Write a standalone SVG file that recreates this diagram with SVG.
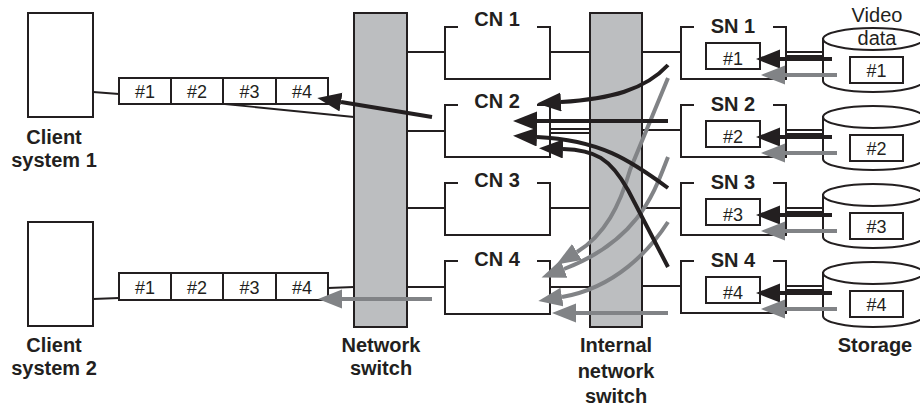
<svg xmlns="http://www.w3.org/2000/svg" width="920" height="407" viewBox="0 0 920 407">
<defs>
<style>
text{font-family:"Liberation Sans",Arial,Helvetica,sans-serif;fill:#231f20}
.lbl{font-size:20px;font-weight:bold;text-anchor:middle}
.pk{font-size:18px;text-anchor:middle}
.vd{font-size:20px;text-anchor:middle}
.box{fill:#fff;stroke:#231f20;stroke-width:2}
.open{fill:none;stroke:#231f20;stroke-width:2}
.sw{fill:#bcbec0;stroke:#231f20;stroke-width:2}
.ln{fill:none;stroke:#231f20;stroke-width:1.9}
.blk{fill:none;stroke:#231f20;stroke-width:4;marker-end:url(#ab)}
.gry{fill:none;stroke:#818386;stroke-width:4;marker-end:url(#ag)}
</style>
<marker id="ab" markerUnits="userSpaceOnUse" markerWidth="26" markerHeight="20" refX="0" refY="9.5" orient="auto"><path d="M0,0 L24,9.5 L0,19 z" fill="#231f20"/></marker>
<marker id="ag" markerUnits="userSpaceOnUse" markerWidth="26" markerHeight="20" refX="0" refY="9.5" orient="auto"><path d="M0,0 L24,9.5 L0,19 z" fill="#818386"/></marker>
</defs>
<rect width="920" height="407" fill="#fff"/>

<g id="connectors">
<line class="ln" x1="93" y1="92" x2="119" y2="94"/>
<line class="ln" x1="225" y1="104" x2="354" y2="117"/>
<line class="ln" x1="93" y1="299" x2="119" y2="298"/>
<line class="ln" x1="328" y1="288" x2="354" y2="287"/>
<line class="ln" x1="407" y1="52" x2="445" y2="52"/>
<line class="ln" x1="407" y1="131" x2="445" y2="131"/>
<line class="ln" x1="407" y1="208" x2="445" y2="208"/>
<line class="ln" x1="407" y1="287" x2="445" y2="287"/>
<line class="ln" x1="550" y1="52" x2="590" y2="52"/>
<line class="ln" x1="550" y1="129" x2="590" y2="129"/>
<line class="ln" x1="550" y1="133" x2="590" y2="133"/>
<line class="ln" x1="550" y1="208" x2="590" y2="208"/>
<line class="ln" x1="550" y1="287" x2="590" y2="287"/>
<line class="ln" x1="642" y1="52" x2="681" y2="52"/>
<line class="ln" x1="642" y1="130" x2="681" y2="130"/>
<line class="ln" x1="642" y1="208" x2="681" y2="208"/>
<line class="ln" x1="642" y1="286" x2="681" y2="286"/>
<line class="ln" x1="786" y1="52" x2="823" y2="52"/>
<line class="ln" x1="786" y1="56" x2="823" y2="56"/>
<line class="ln" x1="786" y1="130" x2="823" y2="130"/>
<line class="ln" x1="786" y1="134" x2="823" y2="134"/>
<line class="ln" x1="786" y1="208" x2="823" y2="208"/>
<line class="ln" x1="786" y1="212" x2="823" y2="212"/>
<line class="ln" x1="786" y1="286" x2="823" y2="286"/>
<line class="ln" x1="786" y1="290" x2="823" y2="290"/>
</g>

<g id="client1">
<rect class="box" x="28" y="13" width="65" height="104"/>
<text class="lbl" x="54" y="144">Client</text>
<text class="lbl" x="54" y="167">system 1</text>
</g>
<g id="client2">
<rect class="box" x="28" y="222" width="65" height="104"/>
<text class="lbl" x="54" y="352">Client</text>
<text class="lbl" x="54" y="375">system 2</text>
</g>

<g id="packets1">
<rect class="box" x="119" y="78" width="52" height="26"/>
<rect class="box" x="171" y="78" width="52" height="26"/>
<rect class="box" x="223" y="78" width="53" height="26"/>
<rect class="box" x="276" y="78" width="52" height="26"/>
<text class="pk" x="145" y="98">#1</text>
<text class="pk" x="197" y="98">#2</text>
<text class="pk" x="249.5" y="98">#3</text>
<text class="pk" x="302" y="98">#4</text>
</g>
<g id="packets2">
<rect class="box" x="119" y="273" width="52" height="27"/>
<rect class="box" x="171" y="273" width="52" height="27"/>
<rect class="box" x="223" y="273" width="53" height="27"/>
<rect class="box" x="276" y="273" width="52" height="27"/>
<text class="pk" x="145" y="294">#1</text>
<text class="pk" x="197" y="294">#2</text>
<text class="pk" x="249.5" y="294">#3</text>
<text class="pk" x="302" y="294">#4</text>
</g>

<g id="network-switch">
<rect class="sw" x="354" y="13" width="53" height="314"/>
<text class="lbl" x="381" y="352">Network</text>
<text class="lbl" x="381" y="375">switch</text>
</g>
<g id="internal-switch">
<rect class="sw" x="590" y="13" width="52" height="314"/>
<text class="lbl" x="616" y="352">Internal</text>
<text class="lbl" x="616" y="378">network</text>
<text class="lbl" x="616" y="403">switch</text>
</g>

<g id="cn1">
<path class="open" d="M458,27 L445,27 L445,79 L550,79 L550,27 L537,27"/>
<text class="lbl" x="497" y="26">CN 1</text>
</g>
<g id="cn2">
<path class="open" d="M458,105 L445,105 L445,157 L550,157 L550,105 L537,105"/>
<text class="lbl" x="497" y="108">CN 2</text>
</g>
<g id="cn3">
<path class="open" d="M458,183 L445,183 L445,235 L550,235 L550,183 L537,183"/>
<text class="lbl" x="497" y="187">CN 3</text>
</g>
<g id="cn4">
<path class="open" d="M458,261 L445,261 L445,314 L550,314 L550,261 L537,261"/>
<text class="lbl" x="497" y="266">CN 4</text>
</g>

<g id="sn1">
<path class="open" d="M694,27 L681,27 L681,79 L786,79 L786,27 L773,27"/>
<text class="lbl" x="733" y="33">SN 1</text>
<rect class="box" x="706" y="43" width="54" height="26"/>
<text class="pk" x="733" y="65">#1</text>
</g>
<g id="sn2">
<path class="open" d="M694,105 L681,105 L681,157 L786,157 L786,105 L773,105"/>
<text class="lbl" x="733" y="111">SN 2</text>
<rect class="box" x="706" y="121" width="54" height="26"/>
<text class="pk" x="733" y="143">#2</text>
</g>
<g id="sn3">
<path class="open" d="M694,183 L681,183 L681,235 L786,235 L786,183 L773,183"/>
<text class="lbl" x="733" y="189">SN 3</text>
<rect class="box" x="706" y="199" width="54" height="26"/>
<text class="pk" x="733" y="221">#3</text>
</g>
<g id="sn4">
<path class="open" d="M694,261 L681,261 L681,313 L786,313 L786,261 L773,261"/>
<text class="lbl" x="733" y="267">SN 4</text>
<rect class="box" x="706" y="277" width="54" height="26"/>
<text class="pk" x="733" y="299">#4</text>
</g>

<g id="storage1">
<path class="box" d="M823,39 L823,81 A50,11 0 0 0 923,81 L923,39 Z"/>
<ellipse class="box" cx="873" cy="39" rx="50" ry="11"/>
<rect class="box" x="850" y="57" width="53" height="26"/>
<text class="pk" x="876.5" y="77">#1</text>
</g>
<g id="storage2">
<path class="box" d="M823,117 L823,159 A50,11 0 0 0 923,159 L923,117 Z"/>
<ellipse class="box" cx="873" cy="117" rx="50" ry="11"/>
<rect class="box" x="850" y="135" width="53" height="26"/>
<text class="pk" x="876.5" y="155">#2</text>
</g>
<g id="storage3">
<path class="box" d="M823,195 L823,237 A50,11 0 0 0 923,237 L923,195 Z"/>
<ellipse class="box" cx="873" cy="195" rx="50" ry="11"/>
<rect class="box" x="850" y="213" width="53" height="26"/>
<text class="pk" x="876.5" y="233">#3</text>
</g>
<g id="storage4">
<path class="box" d="M823,273 L823,316 A50,11 0 0 0 923,316 L923,273 Z"/>
<ellipse class="box" cx="873" cy="273" rx="50" ry="11"/>
<rect class="box" x="850" y="291" width="53" height="26"/>
<text class="pk" x="876.5" y="311">#4</text>
</g>
<g id="storage-labels">
<text class="vd" x="877" y="22">Video</text>
<text class="vd" x="877" y="45">data</text>
<text class="lbl" x="875" y="352">Storage</text>
</g>

<g id="flows">
<path class="gry" d="M668,78 L630,170 C620,205 605,235 577,252"/>
<path class="gry" d="M668,157 C655,190 640,240 564,269"/>
<path class="gry" d="M668,222 C650,250 615,288 562,297"/>
<path class="gry" d="M668,313 L576,313"/>
<path class="blk" d="M668,65 C645,90 610,99 561,102"/>
<path class="blk" d="M668,121 L537,121"/>
<path class="blk" d="M668,188 C630,160 600,140 537,137"/>
<path class="blk" d="M668,267 L628,190 C610,158 595,150 563,149"/>
<path class="blk" d="M432,117 L341,102"/>
<path class="gry" d="M432,299 L342,299"/>
<path class="blk" d="M832,59 L780,59"/>
<path class="gry" d="M837,75 L785,75"/>
<path class="blk" d="M832,137 L780,137"/>
<path class="gry" d="M837,153 L785,153"/>
<path class="blk" d="M832,215 L780,215"/>
<path class="gry" d="M837,231 L785,231"/>
<path class="blk" d="M832,293 L780,293"/>
<path class="gry" d="M837,309 L785,309"/>
</g>
</svg>
